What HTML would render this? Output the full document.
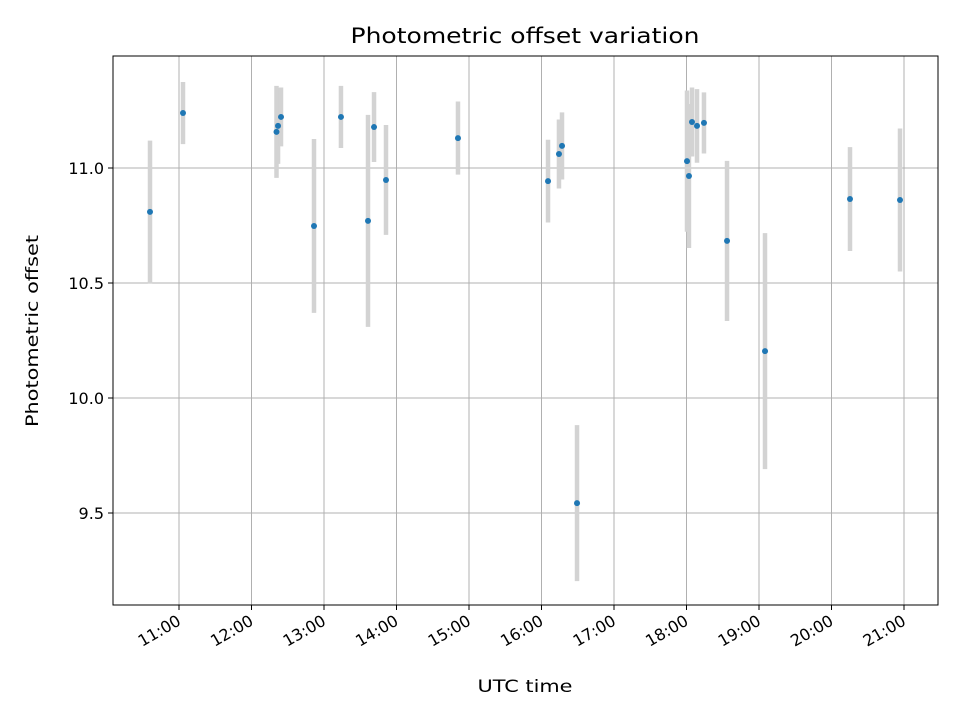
<!DOCTYPE html>
<html><head><meta charset="utf-8"><style>
body{margin:0;background:#fff;font-family:"DejaVu Sans","Liberation Sans",sans-serif}
</style></head><body>
<svg id="chart" width="960" height="720" xmlns="http://www.w3.org/2000/svg" font-family="'DejaVu Sans','Liberation Sans',sans-serif">
<rect width="960" height="720" fill="#fff"/>
<g id="grid"></g>
<g id="errs"></g>
<g id="pts"></g>
<rect x="113" y="56" width="825" height="549" fill="none" stroke="#000" stroke-width="1"/>
<g id="ticks"></g>
<text x="525" y="43" text-anchor="middle" font-size="21" textLength="349" lengthAdjust="spacingAndGlyphs">Photometric offset variation</text>
<text x="525" y="692" text-anchor="middle" font-size="17" textLength="95" lengthAdjust="spacingAndGlyphs">UTC time</text>
<text transform="translate(38,331) rotate(-90)" text-anchor="middle" font-size="17" textLength="192" lengthAdjust="spacingAndGlyphs">Photometric offset</text>
</svg>
<script>
const times=[10.60,11.055,12.345,12.366,12.407,12.862,13.234,13.607,13.69,13.855,14.848,16.09,16.241,16.283,16.49,18.007,18.034,18.076,18.145,18.241,18.559,19.083,20.255,20.945];
const values=[10.809,11.239,11.157,11.183,11.222,10.748,11.222,10.770,11.178,10.948,11.13,10.943,11.061,11.096,9.543,11.03,10.965,11.2,11.183,11.196,10.683,10.204,10.865,10.861];
const errors=[0.31,0.135,0.2,0.165,0.128,0.378,0.135,0.461,0.152,0.239,0.159,0.18,0.15,0.146,0.339,0.307,0.313,0.15,0.16,0.133,0.348,0.513,0.226,0.311];
const xTicks=[11,12,13,14,15,16,17,18,19,20,21];
const xTickLabels=["11:00","12:00","13:00","14:00","15:00","16:00","17:00","18:00","19:00","20:00","21:00"];
const yTicks=[9.5,10.0,10.5,11.0];
const yTickLabels=["9.5","10.0","10.5","11.0"];
const NS="http://www.w3.org/2000/svg";
const X=h=>179+(h-11)*72.5;
const Y=v=>168-(v-11)*230;
function mk(tag,attrs,parent){const e=document.createElementNS(NS,tag);for(const k in attrs)e.setAttribute(k,attrs[k]);parent.appendChild(e);return e;}
const grid=document.getElementById('grid'),ticks=document.getElementById('ticks'),errs=document.getElementById('errs'),pts=document.getElementById('pts');
xTicks.forEach((t,i)=>{const x=X(t);
 let g=mk('line',{x1:x,x2:x,y1:56,y2:605,stroke:'#b0b0b0','stroke-width':1},grid);
 
 let tk=mk('line',{x1:x,x2:x,y1:605,y2:610,stroke:'#000'},ticks);
 
 let tx=mk('text',{x:x+3,y:624,'text-anchor':'end','font-size':16,transform:`rotate(-30 ${x+3} 624)`},ticks);
 
 tx.textContent=xTickLabels[i];});
yTicks.forEach((t,i)=>{const y=Y(t);
 let g=mk('line',{x1:113,x2:938,y1:y,y2:y,stroke:'#b0b0b0','stroke-width':1},grid);
 
 let tk=mk('line',{x1:108,x2:113,y1:y,y2:y,stroke:'#000'},ticks);
 
 let tx=mk('text',{x:104,y:y+6,'text-anchor':'end','font-size':16},ticks);
 
 tx.textContent=yTickLabels[i];});
times.forEach((t,i)=>{const x=X(t);
 let e=mk('line',{x1:x,x2:x,y1:Y(values[i]+errors[i]),y2:Y(values[i]-errors[i]),stroke:'#d3d3d3','stroke-width':4.5},errs);
 
 let c=mk('circle',{cx:x,cy:Y(values[i]),r:3,fill:'#1f77b4'},pts);
 });
</script>
</body></html>
